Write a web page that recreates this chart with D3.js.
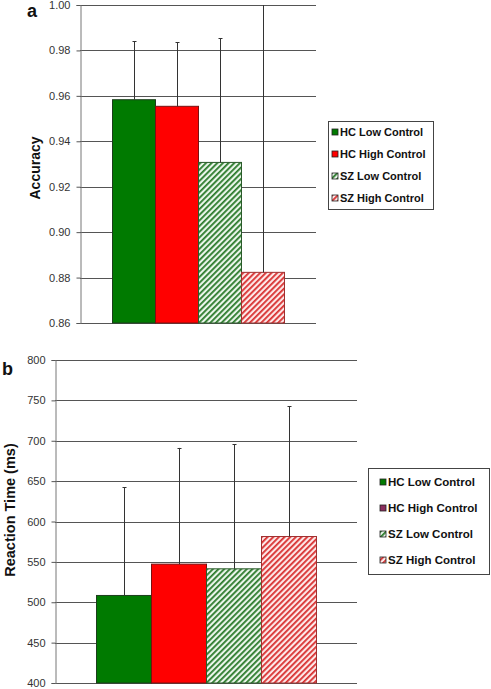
<!DOCTYPE html>
<html><head><meta charset="utf-8">
<script src="https://cdn.jsdelivr.net/npm/d3@7"></script>
<style>body{margin:0;background:#fff}svg{display:block}text{font-family:"Liberation Sans",Arial,sans-serif}</style>
</head><body>
<svg id="c" width="491" height="689"></svg>
<script>
const groups = ["HC Low Control","HC High Control","SZ Low Control","SZ High Control"];
const accMean = [0.9583, 0.9554, 0.9307, 0.8823];
const accErr  = [0.0257, 0.0283, 0.0546, 0.1400];
const accTicks = [0.86,0.88,0.90,0.92,0.94,0.96,0.98,1.00];
const rtMean = [508.4, 547.2, 541.4, 581.4];
const rtErr  = [134.1, 143.9, 154.3, 161.3];
const rtTicks = [400,450,500,550,600,650,700,750,800];

const svg = d3.select("#c");
const defs = svg.append("defs");
function hatch(id, col, bg){
  const p = defs.append("pattern").attr("id",id).attr("patternUnits","userSpaceOnUse")
    .attr("width",4).attr("height",4).attr("patternTransform","rotate(45)");
  p.append("rect").attr("width",4).attr("height",4).attr("fill",bg);
  p.append("rect").attr("width",1.8).attr("height",4).attr("fill",col);
}
hatch("gh","#2a7a2a","#eaf5ea");
hatch("rh","#d83030","#fde8e8");
const fills = ["#007a00","#ff0000","url(#gh)","url(#rh)"];
const strokes = ["#1d3d1d","#7a1010","#2a5a2a","#a03030"];

function panel(o){
  const g = svg.append("g");
  const y = d3.scaleLinear().domain(o.domain).range([o.y1,o.y0]);
  const x = d3.scaleBand().domain(groups).range([o.bx0,o.bx1]).padding(0);
  g.append("g").selectAll("line").data(o.ticks).join("line")
    .attr("x1",o.x0).attr("x2",o.x1).attr("y1",d=>Math.round(y(d))+0.5).attr("y2",d=>Math.round(y(d))+0.5)
    .attr("stroke","#555").attr("stroke-width",1);
  const ax = g.append("g").attr("transform",`translate(${o.x0+0.5},0)`)
    .call(d3.axisLeft(y).tickValues(o.ticks).tickFormat(o.fmt).tickSize(4).tickPadding(6));
  ax.select(".domain").attr("stroke","#777");
  ax.selectAll(".tick line").attr("stroke","#555");
  ax.selectAll("text").attr("font-size",11).attr("fill","#333").attr("font-family","Liberation Sans, Arial");
  g.append("g").selectAll("rect").data(groups).join("rect")
    .attr("x",d=>x(d)+0.5).attr("width",x.bandwidth())
    .attr("y",(d,i)=>y(o.mean[i])).attr("height",(d,i)=>y(o.domain[0])-y(o.mean[i]))
    .attr("fill",(d,i)=>fills[i]).attr("stroke",(d,i)=>strokes[i]).attr("stroke-width",1);
  const eg = g.append("g").attr("stroke","#333").attr("stroke-width",1);
  groups.forEach((d,i)=>{
    const cx = Math.round(x(d)+x.bandwidth()/2)+0.5;
    const top = o.mean[i]+o.err[i];
    const ty = Math.max(y(top), o.y0);
    eg.append("line").attr("x1",cx).attr("x2",cx).attr("y1",y(o.mean[i])).attr("y2",ty);
    if (top <= o.domain[1]) eg.append("line").attr("x1",cx-2).attr("x2",cx+2).attr("y1",Math.round(ty)+0.5).attr("y2",Math.round(ty)+0.5);
  });
  const L = o.legend;
  g.append("rect").attr("x",L.x+0.5).attr("y",L.y+0.5).attr("width",L.w).attr("height",L.h)
    .attr("fill","#fff").attr("stroke","#444");
  groups.forEach((d,i)=>{
    const ry = L.y + L.r0 + i*L.dy;
    let f = fills[i];
    if (o.legendFills) f = o.legendFills[i];
    g.append("rect").attr("x",L.x+L.sx).attr("y",ry-7).attr("width",6).attr("height",6)
      .attr("fill",f).attr("stroke","#222").attr("stroke-width",0.8);
    g.append("text").attr("x",L.x+L.sx+8).attr("y",ry).attr("font-size",L.fs).attr("font-weight","bold")
      .attr("fill","#111").text(d);
  });
  g.append("text").attr("transform",`translate(${o.tx},${o.ty}) rotate(-90)`).attr("text-anchor","middle")
    .attr("font-size",o.tfs).attr("font-weight","bold").attr("fill","#111").text(o.title);
  g.append("text").attr("x",o.lx).attr("y",o.ly).attr("font-size",18).attr("font-weight","bold").attr("fill","#111").text(o.letter);
}

panel({domain:[0.86,1.00], ticks:accTicks, fmt:d3.format(".2f"), y0:5, y1:323, x0:80, x1:316, bx0:112, bx1:284,
  mean:accMean, err:accErr, title:"Accuracy", tfs:14, tx:40, ty:168, letter:"a", lx:27, ly:17,
  legend:{x:328,y:121,w:105,h:88,sx:4,r0:15,dy:22,fs:11}});
panel({domain:[400,800], ticks:rtTicks, fmt:d3.format("d"), y0:360, y1:683, x0:55, x1:357, bx0:96, bx1:316,
  mean:rtMean, err:rtErr, title:"Reaction Time (ms)", tfs:14.5, tx:15, ty:510, letter:"b", lx:2, ly:375,
  legendFills:["#007a00","#8b2e5e","url(#gh)","url(#rh)"],
  legend:{x:368,y:468,w:121,h:106,sx:12,r0:18,dy:26,fs:11.5}});
</script>
</body></html>
